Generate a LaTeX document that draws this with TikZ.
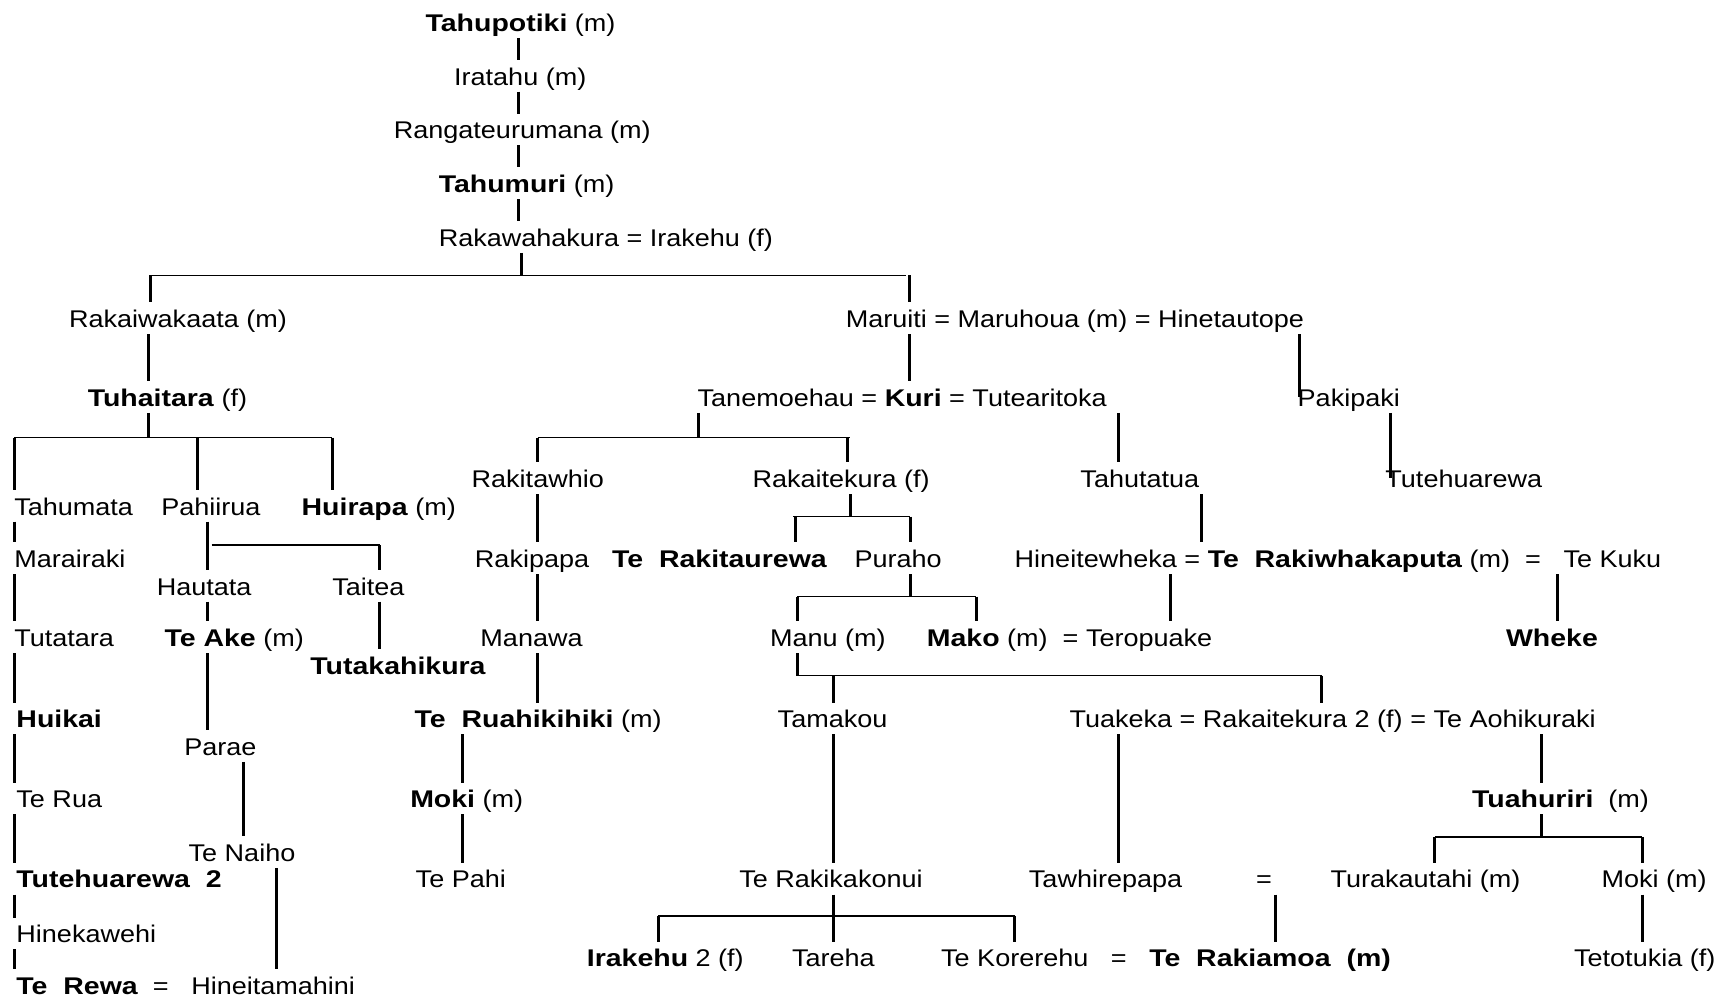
\documentclass[tikz,border=0pt]{standalone}
\usepackage{fontspec}
\setmainfont[FakeStretch=1.12,BoldFeatures={FakeStretch=1.18}]{Liberation Sans}
\tikzset{
  person/.style ={inner sep=0pt,outer xsep=0pt,outer ysep=2pt,anchor=west,
                  text height=9.5pt,text depth=1pt,font=\fontsize{11}{13}\selectfont},
  link/.style   ={line width=1.4pt},
  bar/.style    ={line width=0.7pt},
}

\begin{document}
\begin{tikzpicture}[x=0.5pt,y=-0.5pt]
  \useasboundingbox (0,0) rectangle (1568,913);
  % line of descent at the top
  \node[person] (tahupotiki) at (388,20)  {\textbf{Tahupotiki} (m)};
  \node[person] (iratahu)    at (414,69)  {Iratahu (m)};
  \node[person] (rangate)    at (359,118) {Rangateurumana (m)};
  \node[person] (tahumuri)   at (400,167) {\textbf{Tahumuri} (m)};
  \node[person] (rakawaha)   at (400,216) {Rakawahakura = Irakehu (f)};
  % second and third rows
  \node[person] (rakaiwak)   at (63,290)   {Rakaiwakaata (m)};
  \node[person] (maruhoua)   at (771,290)  {Maruiti = Maruhoua (m) = Hinetautope};
  \node[person] (tuhaitara)  at (80,362)   {\textbf{Tuhaitara} (f)};
  \node[person] (kuri)       at (636,362)  {Tanemoehau = \textbf{Kuri} = Tutearitoka};
  \node[person] (pakipaki)   at (1183,362) {Pakipaki};
  \node[person] (rakitawhio) at (430,436)  {Rakitawhio};
  \node[person] (rakaitek)   at (686,436)  {Rakaitekura (f)};
  \node[person] (tahutatua)  at (985,436)  {Tahutatua};
  \node[person] (tutehuar)   at (1263,436) {Tutehuarewa};
  % Tuhaitara's line
  \node[person] (tahumata)   at (13,461)  {Tahumata};
  \node[person] (pahiirua)   at (147,461) {Pahiirua};
  \node[person] (huirapa)    at (275,461) {\textbf{Huirapa} (m)};
  \node[person] (marairaki)  at (13,509)  {Marairaki};
  \node[person] (hautata)    at (143,534) {Hautata};
  \node[person] (taitea)     at (303,534) {Taitea};
  \node[person] (tutatara)   at (13,581)  {Tutatara};
  \node[person] (teake)      at (150,581) {\textbf{Te Ake} (m)};
  \node[person] (tutakahi)   at (283,606) {\textbf{Tutakahikura}};
  \node[person] (huikai)     at (15,655)  {\textbf{Huikai}};
  \node[person] (parae)      at (168,680) {Parae};
  \node[person] (terua)      at (15,728)  {Te Rua};
  \node[person] (tenaiho)    at (172,777) {Te Naiho};
  \node[person] (tutehu2)    at (15,801)  {\textbf{Tutehuarewa\ \ 2}};
  \node[person] (hinekaw)    at (15,851)  {Hinekawehi};
  \node[person] (terewa)     at (15,898)  {\textbf{Te\ \ Rewa}\ \ =\ \ \ Hineitamahini};
  % Kuri's line
  \node[person] (rakipapa)   at (433,509)  {Rakipapa};
  \node[person] (rakitaur)   at (558,509)  {\textbf{Te\ \ Rakitaurewa}};
  \node[person] (puraho)     at (779,509)  {Puraho};
  \node[person] (rakiwhak)   at (925,509)  {Hineitewheka = \textbf{Te\ \ Rakiwhakaputa} (m)\ \ =\ \ \ Te Kuku};
  \node[person] (manawa)     at (438,581)  {Manawa};
  \node[person] (manu)       at (702,581)  {Manu (m)};
  \node[person] (mako)       at (845,581)  {\textbf{Mako} (m) \ = Teropuake};
  \node[person] (wheke)      at (1373,581) {\textbf{Wheke}};
  \node[person] (ruahiki)    at (378,655)  {\textbf{Te\ \ Ruahikihiki} (m)};
  \node[person] (tamakou)    at (709,655)  {Tamakou};
  \node[person] (tuakeka)    at (975,655)  {Tuakeka = Rakaitekura 2 (f) = Te Aohikuraki};
  \node[person] (moki1)      at (374,728)  {\textbf{Moki} (m)};
  \node[person] (tuahuriri)  at (1342,728) {\textbf{Tuahuriri}\ \ (m)};
  \node[person] (tepahi)     at (379,801)  {Te Pahi};
  \node[person] (rakikako)   at (674,801)  {Te Rakikakonui};
  \node[person] (tawhire)    at (938,801)  {Tawhirepapa};
  \node[person] (eqsign)     at (1145,801) {=};
  \node[person] (turakau)    at (1213,801) {Turakautahi (m)};
  \node[person] (moki2)      at (1460,801) {Moki (m)};
  \node[person] (irakehu2)   at (535,873)  {\textbf{Irakehu} 2 (f)};
  \node[person] (tareha)     at (722,873)  {Tareha};
  \node[person] (korerehu)   at (858,873)  {Te Korerehu\ \ \ =\ \ \ \textbf{Te\ \ Rakiamoa\ \ (m)}};
  \node[person] (tetotukia)  at (1435,873) {Tetotukia (f)};

  % single descent lines
  \foreach \a/\b in {tahupotiki/iratahu, iratahu/rangate, rangate/tahumuri, tahumuri/rakawaha}
    \draw[link] (473,0 |- \a.south) -- (473,0 |- \b.north);
  \foreach \a/\b in {tahumata/marairaki, marairaki/tutatara, tutatara/huikai,
                     huikai/terua, terua/tutehu2, tutehu2/hinekaw, hinekaw/terewa}
    \draw[link] (13,0 |- \a.south) -- (13,0 |- \b.north);
  \foreach \a/\b in {pahiirua/hautata, hautata/teake, teake/parae}
    \draw[link] (189,0 |- \a.south) -- (189,0 |- \b.north);
  \foreach \a/\b in {rakitawhio/rakipapa, rakipapa/manawa, manawa/ruahiki}
    \draw[link] (490,0 |- \a.south) -- (490,0 |- \b.north);
  \foreach \a/\b in {ruahiki/moki1, moki1/tepahi}
    \draw[link] (422,0 |- \a.south) -- (422,0 |- \b.north);
  \draw[link] (135,0 |- rakaiwak.south)  -- (135,0 |- tuhaitara.north);
  \draw[link] (222,0 |- parae.south)     -- (222,0 |- tenaiho.north);
  \draw[link] (252,0 |- tenaiho.south)   -- (252,0 |- terewa.north);
  \draw[link] (346,0 |- taitea.south)    -- (346,0 |- tutakahi.north);
  \draw[link] (829,0 |- maruhoua.south)  -- (829,0 |- kuri.north);
  \draw[link] (1185,0 |- maruhoua.south) -- (1185,0 |- pakipaki.center);
  \draw[link] (1268,0 |- pakipaki.south) -- (1268,0 |- tutehuar.center);
  \draw[link] (1020,0 |- kuri.south)     -- (1020,0 |- tahutatua.north);
  \draw[link] (1095,0 |- tahutatua.south) -- (1095,0 |- rakiwhak.north);
  \draw[link] (1067,0 |- rakiwhak.south) -- (1067,0 |- mako.north);
  \draw[link] (1420,0 |- rakiwhak.south) -- (1420,0 |- wheke.north);
  \draw[link] (760,0 |- tamakou.south)   -- (760,0 |- rakikako.north);
  \draw[link] (1020,0 |- tuakeka.south)  -- (1020,0 |- tawhire.north);
  \draw[link] (1405,0 |- tuakeka.south)  -- (1405,0 |- tuahuriri.north);
  \draw[link] (1163,0 |- eqsign.south)   -- (1163,0 |- korerehu.north);
  \draw[link] (1497,0 |- moki2.south)    -- (1497,0 |- tetotukia.north);

  % sibling bars
  \coordinate (j1) at (475,251);
  \draw[link] (475,0 |- rakawaha.south) -- (j1);
  \draw[bar]  (137,0 |- j1) -- (826,0 |- j1);
  \draw[link] (137,0 |- j1) -- (137,0 |- rakaiwak.north);
  \draw[link] (829,0 |- j1) -- (829,0 |- maruhoua.north);

  \coordinate (j2) at (135,399);
  \draw[link] (135,0 |- tuhaitara.south) -- (j2);
  \draw[bar]  (13,0 |- j2) -- (303,0 |- j2);
  \foreach \x/\b in {13/tahumata, 180/pahiirua, 303/huirapa}
    \draw[link] (\x,0 |- j2) -- (\x,0 |- \b.north);

  \coordinate (j3) at (346,497);
  \draw[bar]  (193,0 |- j3) -- (j3);
  \draw[link] (j3) -- (346,0 |- taitea.north);

  \coordinate (j4) at (637,399);
  \draw[link] (637,0 |- kuri.south) -- (j4);
  \draw[bar]  (490,0 |- j4) -- (775,0 |- j4);
  \foreach \x/\b in {490/rakitawhio, 773/rakaitek}
    \draw[link] (\x,0 |- j4) -- (\x,0 |- \b.north);

  \coordinate (j5) at (775,471);
  \draw[link] (775,0 |- rakaitek.south) -- (j5);
  \draw[bar]  (723,0 |- j5) -- (830,0 |- j5);
  \foreach \x/\b in {725/rakitaur, 830/puraho}
    \draw[link] (\x,0 |- j5) -- (\x,0 |- \b.north);

  \coordinate (j6) at (830,544);
  \draw[link] (830,0 |- puraho.south) -- (j6);
  \draw[bar]  (727,0 |- j6) -- (890,0 |- j6);
  \foreach \x/\b in {727/manu, 890/mako}
    \draw[link] (\x,0 |- j6) -- (\x,0 |- \b.north);

  \coordinate (j7) at (727,616);
  \draw[link] (727,0 |- manu.south) -- (j7);
  \draw[bar]  (j7) -- (1205,0 |- j7);
  \foreach \x/\b in {760/tamakou, 1205/tuakeka}
    \draw[link] (\x,0 |- j7) -- (\x,0 |- \b.north);

  \coordinate (j8) at (760,835);
  \draw[link] (760,0 |- rakikako.south) -- (760,0 |- tareha.north);
  \draw[bar]  (600,0 |- j8) -- (925,0 |- j8);
  \foreach \x/\b in {600/irakehu2, 925/korerehu}
    \draw[link] (\x,0 |- j8) -- (\x,0 |- \b.north);

  \coordinate (j9) at (1405,763);
  \draw[link] (1405,0 |- tuahuriri.south) -- (j9);
  \draw[bar]  (1308,0 |- j9) -- (1497,0 |- j9);
  \foreach \x/\b in {1308/turakau, 1497/moki2}
    \draw[link] (\x,0 |- j9) -- (\x,0 |- \b.north);
\end{tikzpicture}
\end{document}
